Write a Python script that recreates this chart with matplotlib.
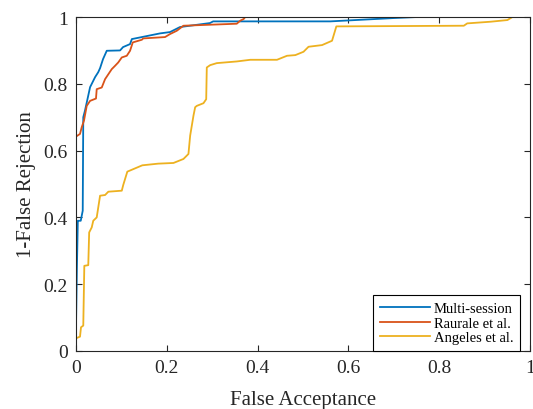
import matplotlib
matplotlib.use('Agg')
import matplotlib.pyplot as plt

plt.rcParams['font.family'] = ['Liberation Serif', 'DejaVu Serif']

# ROC-style curves
multi_x = [0, 0.002, 0.004, 0.006, 0.0104, 0.0148, 0.016, 0.0198, 0.031, 0.042, 0.049,
           0.053, 0.0595, 0.0677, 0.097, 0.1036, 0.119, 0.123, 0.185, 0.207, 0.229,
           0.295, 0.302, 0.56, 0.63, 0.7, 0.75, 1.0]
multi_y = [0.076, 0.25, 0.39, 0.39, 0.39, 0.42, 0.70, 0.72, 0.79, 0.82, 0.835,
           0.847, 0.874, 0.899, 0.90, 0.91, 0.919, 0.934, 0.951, 0.955, 0.97,
           0.982, 0.987, 0.987, 0.992, 0.997, 1.0, 1.0]

raurale_x = [0, 0.0088, 0.0126, 0.0176, 0.0236, 0.031, 0.044, 0.0456, 0.0567, 0.064,
             0.0787, 0.086, 0.093, 0.1008, 0.1118, 0.119, 0.125, 0.145, 0.148, 0.196,
             0.207, 0.222, 0.2366, 0.2955, 0.354, 0.3616, 0.369, 0.3727]
raurale_y = [0.642, 0.65, 0.67, 0.69, 0.734, 0.749, 0.756, 0.784, 0.789, 0.814,
             0.844, 0.854, 0.864, 0.879, 0.884, 0.899, 0.924, 0.932, 0.936, 0.94,
             0.949, 0.959, 0.974, 0.977, 0.98, 0.989, 0.994, 1.0]

angeles_x = [0, 0.0088, 0.011, 0.016, 0.0183, 0.027, 0.029, 0.0346, 0.038, 0.0456,
             0.053, 0.064, 0.0712, 0.1008, 0.104, 0.113, 0.146, 0.181, 0.2146, 0.2366,
             0.2476, 0.2514, 0.2587, 0.2624, 0.266, 0.2807, 0.2867, 0.288, 0.2955, 0.310,
             0.354, 0.3837, 0.4426, 0.4646, 0.483, 0.501, 0.512, 0.5418, 0.5638, 0.5733,
             0.854, 0.8615, 0.913, 0.95, 0.961, 1.0]
angeles_y = [0.038, 0.043, 0.071, 0.076, 0.255, 0.257, 0.355, 0.37, 0.39, 0.40,
             0.465, 0.467, 0.477, 0.48, 0.497, 0.537, 0.556, 0.561, 0.563, 0.575,
             0.59, 0.645, 0.705, 0.73, 0.734, 0.742, 0.754, 0.849, 0.856, 0.862,
             0.867, 0.872, 0.872, 0.884, 0.886, 0.896, 0.911, 0.916, 0.929, 0.972,
             0.974, 0.981, 0.986, 0.991, 1.0, 1.0]

labels = ['Multi-session', 'Raurale et al.', 'Angeles et al.']
colors = ['#0072BD', '#D95319', '#EDB120']
ticks = [0, 0.2, 0.4, 0.6, 0.8, 1]
tick_labels = ['0', '0.2', '0.4', '0.6', '0.8', '1']

fig = plt.figure(figsize=(5.33, 4.10), dpi=100)
ax = fig.add_axes([0.1426, 0.1415, 0.852, 0.8145])

for xs, ys, lab, c in zip([multi_x, raurale_x, angeles_x],
                          [multi_y, raurale_y, angeles_y], labels, colors):
    ax.plot(xs, ys, color=c, lw=1.3, label=lab)

ax.set_xlim(0, 1)
ax.set_ylim(0, 1)
ax.set_xticks(ticks)
ax.set_xticklabels(tick_labels)
ax.set_yticks(ticks)
ax.set_yticklabels(tick_labels)
ax.tick_params(direction='in', top=True, right=True, length=4, width=0.8,
               labelsize=14, colors='#262626', pad=6)
for s in ax.spines.values():
    s.set_color('#262626')
    s.set_linewidth(0.8)

ax.set_xlabel('False Acceptance', fontsize=15, color='#262626', labelpad=10)
ax.set_ylabel('1-False Rejection', fontsize=15, color='#262626', labelpad=5)

leg = ax.legend(loc='lower right', fontsize=10.5, frameon=True, fancybox=False,
                edgecolor='black', framealpha=1, borderaxespad=0.0,
                bbox_to_anchor=(0.978, 0.0), handlelength=3.4, handletextpad=0.3,
                labelspacing=0.1, borderpad=0.45)
leg.get_frame().set_linewidth(0.8)

fig.savefig('out.png', dpi=100)
